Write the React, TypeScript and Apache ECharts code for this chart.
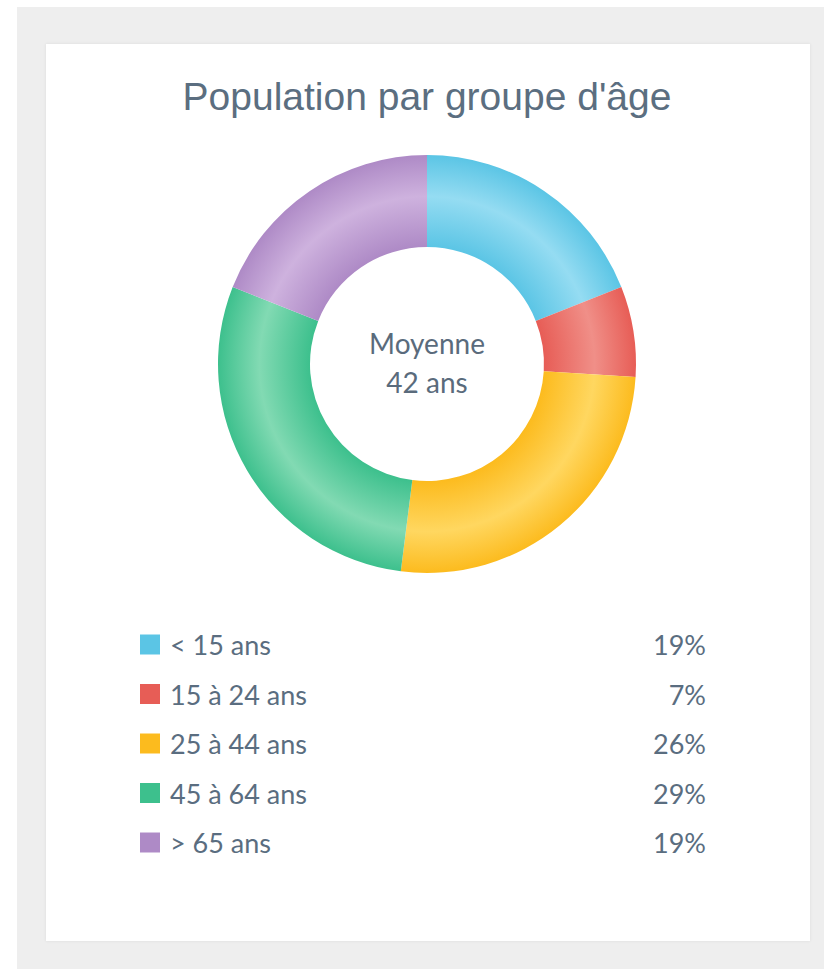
import React, { useEffect, useRef } from "react";
import * as echarts from "echarts";

const titleText = "Population par groupe d'âge";
const categories = ["< 15 ans", "15 à 24 ans", "25 à 44 ans", "45 à 64 ans", "> 65 ans"];
const shares = [19, 7, 26, 29, 19];
const centerLabel = "Moyenne";
const averageAge = 42;

const baseColors = ["#5bc5e5", "#e75d56", "#fcbb1e", "#3dc08d", "#ae8ac6"];
const lightColors = ["#95dcf2", "#f08f88", "#ffd760", "#82dab3", "#ceb2de"];

const CX = 427;
const CY = 364;
const R_OUT = 209;
const R_IN = 117;

export default function App() {
  const ref = useRef<HTMLDivElement>(null);
  useEffect(() => {
    if (!ref.current) return;
    const chart = echarts.init(ref.current, undefined, { renderer: "svg" });
    const k = R_IN / R_OUT;
    const grad = (i: number) => ({
      type: "radial",
      x: CX,
      y: CY,
      r: R_OUT,
      global: true,
      colorStops: [
        { offset: 0, color: baseColors[i] },
        { offset: k, color: baseColors[i] },
        { offset: k + (1 - k) * 0.55, color: lightColors[i] },
        { offset: 1, color: baseColors[i] },
      ],
    });
    chart.setOption({
      animation: false,
      backgroundColor: "#ffffff",
      graphic: [
        { type: "rect", z: -10, shape: { x: 17, y: 7, width: 824, height: 980 }, style: { fill: "#eeeeee" } },
        {
          type: "rect",
          z: -9,
          shape: { x: 46, y: 44, width: 764, height: 897 },
          style: { fill: "#ffffff", shadowBlur: 3, shadowColor: "rgba(0,0,0,0.08)" },
        },
        {
          type: "text",
          z: 10,
          x: CX,
          y: 362,
          style: {
            text: centerLabel + "\n" + averageAge + " ans",
            textAlign: "center",
            textVerticalAlign: "middle",
            font: "28px Lato",
            lineHeight: 39,
            fill: "#5a6b7c",
          },
        },
      ],
      title: {
        text: titleText,
        left: CX,
        textAlign: "center",
        top: 77,
        padding: 0,
        textStyle: { fontFamily: "Liberation Sans, Arial", fontSize: 39, fontWeight: "normal", color: "#5b6e80" },
      },
      legend: {
        orient: "vertical",
        left: 140,
        top: 631,
        padding: 0,
        itemWidth: 20,
        itemHeight: 20,
        itemGap: 22.5,
        icon: "rect",
        selectedMode: false,
        data: categories.map((c, i) => ({ name: c, itemStyle: { color: baseColors[i] } })),
        formatter: (name: string) => {
          const i = categories.indexOf(name);
          return "{n|" + name + "}{p|" + shares[i] + "%}";
        },
        textStyle: {
          padding: [0, 0, 0, 5],
          rich: {
            n: { width: 476, fontFamily: "Lato", fontSize: 27, color: "#5a6d80", lineHeight: 28 },
            p: { width: 60, align: "right", fontFamily: "Lato", fontSize: 27, color: "#5a6d80", lineHeight: 28 },
          },
        },
      },
      series: [
        {
          type: "pie",
          center: [CX, CY],
          radius: [R_IN, R_OUT],
          startAngle: 90,
          clockwise: true,
          label: { show: false },
          labelLine: { show: false },
          emphasis: { disabled: true },
          itemStyle: { borderWidth: 0 },
          data: categories.map((c, i) => ({ name: c, value: shares[i], itemStyle: { color: grad(i) } })),
        },
      ],
    });
    return () => chart.dispose();
  }, []);
  return (
    <div style={{ position: "absolute", left: 0, top: 0, width: 824, height: 969 }}>
      <div ref={ref} style={{ width: 824, height: 969 }} />
    </div>
  );
}
